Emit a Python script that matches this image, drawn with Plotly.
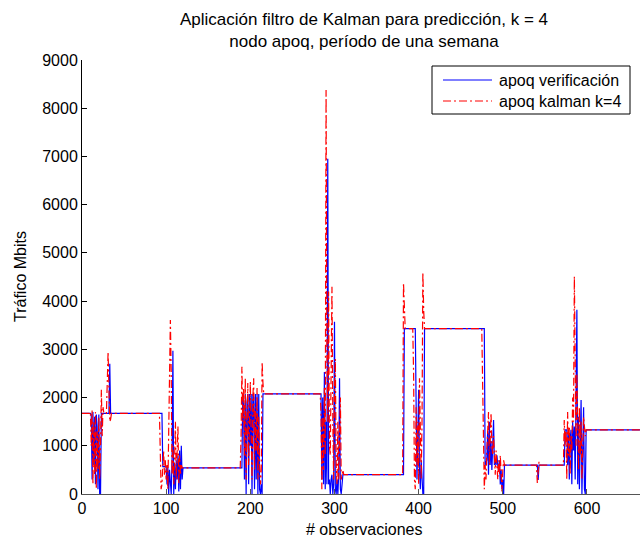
import plotly.graph_objects as go

obs_verif = [0, 10, 11, 12, 13, 14, 15, 16, 17, 18, 19, 20, 21, 22, 23, 32, 33, 34,
             95, 96, 100, 101, 102, 103, 104, 105, 106, 107, 108, 109, 110, 111, 112, 113, 114, 115, 116, 117, 118, 119, 120,
             190, 191, 192, 193, 194, 195, 196, 197, 198, 199, 200, 201, 202, 203, 204, 205, 206, 207, 208, 209, 210, 211, 212, 213, 214, 215,
             284, 285, 286, 287, 288, 289, 290, 291, 292, 293, 294, 295, 296, 297, 298, 299, 300, 301, 302, 303, 304, 305, 306, 307, 308, 309, 310,
             382, 383, 396, 397, 398, 399, 400, 401, 402, 403, 404, 405, 406, 407,
             478, 479, 481, 482, 483, 484, 485, 486, 487, 488, 489, 490, 491, 492, 493, 494, 495, 496, 497, 498, 499, 500, 501, 502,
             541, 542, 543,
             573, 574, 576, 577, 578, 579, 580, 581, 582, 583, 584, 585, 586, 587, 588, 589, 590, 591, 592, 593, 594, 595, 596, 597, 598, 599, 671]
traffic_verif = [1670, 1670, 1650, 300, 1700, 600, 1600, 200, 1650, 1400, 100, 1650, 0, 0, 1670, 1670, 2700, 1670,
                 1670, 566, 566, 200, 560, 0, 500, 300, 0, 700, 2970, 0, 600, 100, 700, 300, 800, 50, 900, 100, 1000, 300, 540,
                 540, 2075, 1800, 300, 2075, 0, 1900, 2075, 200, 2075, 1000, 2075, 0, 2075, 2000, 100, 2075, 300, 2075, 0, 2075, 100, 0, 200, 0, 2075,
                 2075, 300, 2000, 200, 2530, 100, 1500, 200, 6950, 200, 300, 0, 300, 400, 0, 200, 3570, 100, 0, 300, 0, 400, 2400, 100, 0, 300, 400,
                 400, 3430, 3430, 1000, 300, 1200, 2160, 500, 100, 700, 200, 0, 0, 3430,
                 3430, 600, 700, 1300, 400, 1500, 600, 1100, 500, 1330, 1535, 600, 700, 600, 800, 600, 500, 700, 200, 500, 100, 300, 0, 600,
                 600, 290, 600,
                 600, 1330, 1330, 600, 1330, 300, 1100, 1330, 200, 1500, 900, 1400, 300, 1800, 3820, 200, 1600, 100, 1000, 1950, 0, 1300, 1800, 100, 0, 1330, 1330]

obs_kalman = [0, 9, 10, 11, 12, 13, 14, 15, 16, 17, 18, 19, 20, 21, 22, 23, 24, 25, 26, 29, 30, 31, 32, 33, 34, 35,
              92, 93, 94, 95, 96, 97, 98, 99, 100, 101, 102, 103, 104, 105, 106, 107, 108, 109, 110, 111, 112, 113, 114, 115, 116, 117, 118, 119,
              188, 189, 190, 191, 192, 193, 194, 195, 196, 197, 198, 199, 200, 201, 202, 203, 204, 205, 206, 207, 208, 209, 210, 211, 212, 213, 214, 215, 216,
              283, 284, 285, 286, 287, 288, 289, 290, 291, 292, 293, 294, 295, 296, 297, 298, 299, 300, 301, 302, 303, 304, 305, 306, 307, 308, 309, 310, 311,
              381, 382, 383, 384, 393, 394, 395, 396, 397, 398, 399, 400, 401, 402, 403, 404, 405, 406, 407,
              475, 476, 477, 478, 479, 480, 481, 482, 483, 484, 485, 486, 487, 488, 489, 490, 491, 492, 493, 494, 495, 496, 497, 498, 499, 500, 501, 502,
              540, 541, 542, 543, 544,
              572, 573, 574, 575, 576, 577, 578, 579, 580, 581, 582, 583, 584, 585, 586, 587, 588, 589, 590, 591, 592, 593, 594, 595, 596, 597, 598, 599, 671]
traffic_kalman = [1670, 1670, 1700, 1000, 1750, 200, 1500, 400, 1700, 100, 1300, 500, 1600, 300, 1000, 2160, 1200, 1800, 1670, 1670, 2300, 2950, 2200, 1500, 1550, 1670,
                  1670, 1000, 100, 200, 600, 900, 400, 700, 300, 600, 100, 1200, 2000, 3610, 2500, 400, 1000, 200, 700, 1500, 300, 1000, 1400, 200, 800, 400, 600, 540,
                  540, 1200, 2640, 1500, 2200, 800, 2400, 300, 1800, 2300, 600, 2100, 2330, 1200, 300, 2000, 2400, 500, 1800, 900, 2200, 300, 1600, 600, 200, 500, 2740, 2300, 2075,
                  2075, 1700, 100, 1600, 500, 2200, 800, 8380, 3000, 1500, 4200, 1000, 800, 2500, 4300, 1500, 300, 2200, 2800, 600, 200, 1500, 300, 1200, 2000, 300, 400, 500, 400,
                  400, 4380, 3800, 3430, 3430, 2500, 300, 100, 1800, 600, 1500, 200, 2400, 800, 300, 1500, 4600, 3800, 3430,
                  3430, 2500, 1000, 100, 600, 300, 900, 1200, 1700, 600, 1400, 1680, 1000, 800, 1200, 700, 400, 900, 600, 300, 700, 400, 800, 200, 50, 500, 700, 600,
                  600, 230, 500, 670, 600,
                  600, 1535, 1000, 1300, 300, 1700, 800, 1400, 400, 1200, 900, 2000, 1500, 4510, 3000, 1000, 2500, 1200, 500, 1800, 800, 1500, 300, 900, 1600, 1400, 1200, 1330, 1330]

x_ticks = [0, 100, 200, 300, 400, 500, 600]
y_ticks = [0, 1000, 2000, 3000, 4000, 5000, 6000, 7000, 8000, 9000]
series_names = ["apoq verificación", "apoq kalman k=4"]
series_colors = ["#0000ff", "#ff0000"]
series_dash = ["solid", "8px,3px,2px,3px"]

FONT = "Liberation Sans, Arial, Helvetica, sans-serif"

# plot-area geometry (pixels)
L, R, T, B = 82, 0, 60, 45
W, H = 640, 539
PW, PH = W - L - R, H - T - B


def px(xp):
    return (xp - L) / PW


def py(yp):
    return (H - B - yp) / PH


fig = go.Figure()
fig.add_trace(go.Scatter(x=obs_verif, y=traffic_verif, mode="lines",
                         name=series_names[0], showlegend=False,
                         line=dict(color=series_colors[0], width=1.2)))
fig.add_trace(go.Scatter(x=obs_kalman, y=traffic_kalman, mode="lines",
                         name=series_names[1], showlegend=False,
                         line=dict(color=series_colors[1], width=1.2, dash=series_dash[1])))

# legend drawn as a box with line samples and labels
shapes = [dict(type="rect", xref="paper", yref="paper",
               x0=px(432), x1=px(630), y0=py(114), y1=py(66),
               line=dict(color="black", width=1), fillcolor="white", layer="above")]
annotations = []
for i, (nm, col, dsh) in enumerate(zip(series_names, series_colors, series_dash)):
    yy = 80 + i * 21
    shapes.append(dict(type="line", xref="paper", yref="paper",
                       x0=px(443), x1=px(492), y0=py(yy), y1=py(yy),
                       line=dict(color=col, width=1.2, dash=dsh), layer="above"))
    annotations.append(dict(text=nm, xref="paper", yref="paper", x=px(497), y=py(yy),
                            xanchor="left", yanchor="middle", showarrow=False,
                            font=dict(family=FONT, size=16, color="black")))

annotations += [
    dict(text="Tráfico Mbits", xref="paper", yref="paper", x=px(20), y=py(277),
         xanchor="center", yanchor="middle", textangle=-90, showarrow=False,
         font=dict(family=FONT, size=16, color="black")),
    dict(text="# observaciones", xref="paper", yref="paper", x=px(364), y=py(529),
         xanchor="center", yanchor="middle", showarrow=False,
         font=dict(family=FONT, size=16, color="black")),
]

fig.update_layout(
    width=W, height=H,
    margin=dict(l=L, r=R, t=T, b=B),
    paper_bgcolor="white", plot_bgcolor="white",
    font=dict(family=FONT, size=16, color="black"),
    title=dict(text="Aplicación filtro de Kalman para predicción, k = 4<br>nodo apoq, período de una semana",
               x=px(364), xref="paper", xanchor="center",
               y=1 - 25 / H, yref="container", yanchor="top",
               font=dict(family=FONT, size=17, color="black")),
    showlegend=False,
    xaxis=dict(range=[0, 663], tickvals=x_ticks, ticktext=[str(v) for v in x_ticks],
               showgrid=False, zeroline=False, showline=True, linecolor="#555555", linewidth=1,
               ticks="inside", ticklen=5, tickcolor="#555555",
               tickfont=dict(family=FONT, size=16, color="black")),
    yaxis=dict(range=[0, 9000], tickvals=y_ticks, ticktext=[str(v) for v in y_ticks],
               showgrid=False, zeroline=False, showline=True, linecolor="black", linewidth=1,
               ticks="inside", ticklen=5, tickcolor="black",
               tickfont=dict(family=FONT, size=16, color="black")),
    shapes=shapes,
    annotations=annotations,
)

fig.write_html("out.html", config={"displayModeBar": False},
               post_script="document.body.style.margin='0';document.body.style.overflow='hidden';")
